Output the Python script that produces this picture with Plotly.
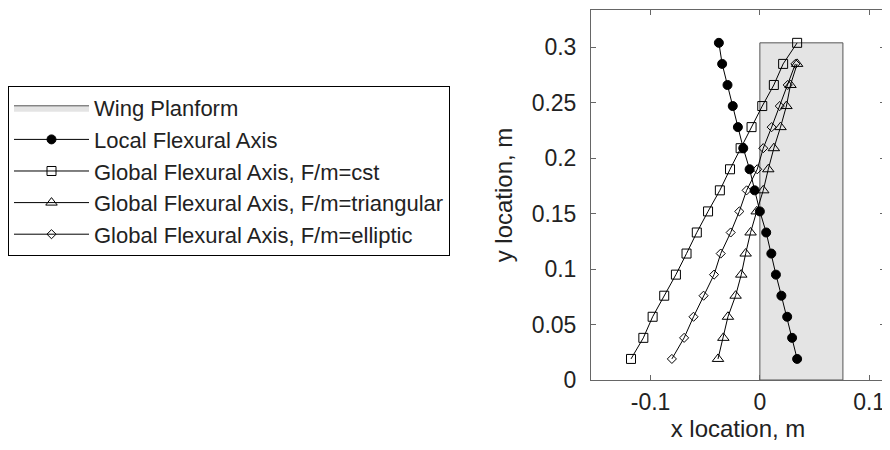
import plotly.graph_objects as go

# ---- data ----
y_span = [0.019, 0.038, 0.057, 0.076, 0.095, 0.114, 0.133, 0.152,
          0.171, 0.190, 0.209, 0.228, 0.247, 0.266, 0.285, 0.304]

x_local = [0.0341, 0.0295, 0.0250, 0.0197, 0.0147, 0.0105, 0.0058, 0.0000,
           -0.0048, -0.0094, -0.0152, -0.0201, -0.0248, -0.0296, -0.0345, -0.0375]
x_cst = [-0.1179, -0.1066, -0.0981, -0.0875, -0.0768, -0.0671, -0.0577, -0.0474,
         -0.0366, -0.0273, -0.0176, -0.0076, 0.0022, 0.0128, 0.0213, 0.0341]
x_tri = [-0.0383, -0.0334, -0.0292, -0.0222, -0.0170, -0.0130, -0.0085, -0.0029,
         0.0031, 0.0077, 0.0128, 0.0189, 0.0243, 0.0280, 0.0341]
x_ell = [-0.0805, -0.0693, -0.0607, -0.0515, -0.0419, -0.0358, -0.0267, -0.0188,
         -0.0121, -0.0024, 0.0031, 0.0108, 0.0182, 0.0255, 0.0325]

wing_x = [0.0, 0.076, 0.076, 0.0, 0.0]
wing_y = [0.0, 0.0, 0.304, 0.304, 0.0]

x_tickvals = [-0.1, 0.0, 0.1]
x_ticktext = ["-0.1", "0", "0.1"]
y_tickvals = [0, 0.05, 0.1, 0.15, 0.2, 0.25, 0.3]
y_ticktext = ["0", "0.05", "0.1", "0.15", "0.2", "0.25", "0.3"]

names = ["Wing Planform", "Local Flexural Axis", "Global Flexural Axis, F/m=cst",
         "Global Flexural Axis, F/m=triangular", "Global Flexural Axis, F/m=elliptic"]

FONT = "Liberation Sans, Arial, Helvetica, sans-serif"

fig = go.Figure()
fig.add_trace(go.Scatter(x=wing_x, y=wing_y, mode="lines", fill="toself",
                         fillcolor="#e4e4e4", line=dict(color="#555555", width=1),
                         name=names[0], legendgroup="g0", hoverinfo="skip"))
fig.add_trace(go.Scatter(x=x_local, y=y_span[:len(x_local)], mode="lines+markers",
                         line=dict(color="black", width=1),
                         marker=dict(symbol="circle", size=9, color="black",
                                     line=dict(color="black", width=1)),
                         name=names[1], legendgroup="g1"))
fig.add_trace(go.Scatter(x=x_cst, y=y_span[:len(x_cst)], mode="lines+markers",
                         line=dict(color="black", width=1),
                         marker=dict(symbol="square-open", size=9, color="black",
                                     line=dict(color="black", width=1)),
                         name=names[2], legendgroup="g2"))
fig.add_trace(go.Scatter(x=x_tri, y=y_span[:len(x_tri)], mode="lines+markers",
                         line=dict(color="black", width=1),
                         marker=dict(symbol="triangle-up-open", size=10, color="black",
                                     line=dict(color="black", width=1)),
                         name=names[3], legendgroup="g3"))
fig.add_trace(go.Scatter(x=x_ell, y=y_span[:len(x_ell)], mode="lines+markers",
                         line=dict(color="black", width=1),
                         marker=dict(symbol="diamond-open", size=7, color="black",
                                     line=dict(color="black", width=1)),
                         name=names[4], legendgroup="g4"))

axis_common = dict(showline=True, linecolor="#666666", linewidth=1, mirror="ticks",
                   ticks="inside", ticklen=5, tickcolor="#666666", tickwidth=1,
                   showgrid=False, zeroline=False, automargin=False,
                   tickfont=dict(family=FONT, size=23, color="#222222"))

fig.update_layout(
    width=882, height=442,
    margin=dict(l=582, r=5, t=2, b=70),
    paper_bgcolor="white", plot_bgcolor="white",
    font=dict(family=FONT, color="#222222"),
    xaxis=dict(range=[-0.1545, 0.1145], tickvals=x_tickvals, ticktext=x_ticktext,
               title=dict(text="x location, m", font=dict(family=FONT, size=24), standoff=6),
               ticklabelstandoff=1,
               **axis_common),
    yaxis=dict(range=[0, 0.3336], tickvals=y_tickvals, ticktext=y_ticktext,
               title=dict(text="y location, m", font=dict(family=FONT, size=24), standoff=12),
               ticklabelstandoff=9,
               **axis_common),
    showlegend=True,
    legend=dict(x=-1.973, y=0.7946, xanchor="left", yanchor="top",
                bgcolor="white", bordercolor="black", borderwidth=1,
                font=dict(family=FONT, size=22, color="#222222"),
                tracegroupgap=3, itemwidth=75,
                traceorder="normal"),
)

fig.write_html("out.html")
